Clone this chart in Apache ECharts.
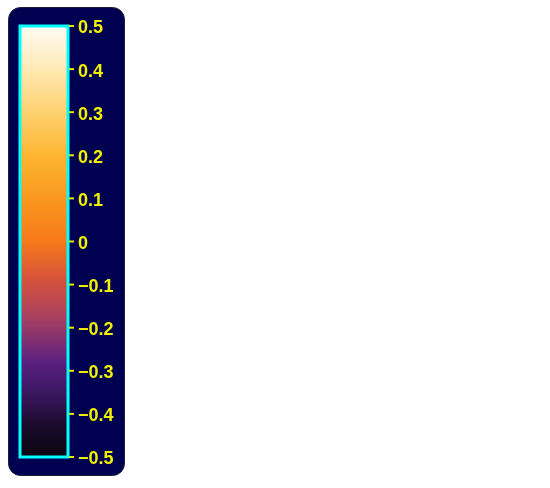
<!DOCTYPE html>
<html>
<head>
<meta charset="utf-8">
<script src="https://cdn.jsdelivr.net/npm/echarts@6/dist/echarts.min.js"></script>
<style>html,body{margin:0;padding:0;background:#fff}#c{width:550px;height:488px}</style>
</head>
<body>
<div id="c"></div>
<script>
var scaleMin = -0.5;
var scaleMax = 0.5;
var tickStep = 0.1;
var tickValues = [-0.5, -0.4, -0.3, -0.2, -0.1, 0, 0.1, 0.2, 0.3, 0.4, 0.5];
var tickLabels = ['−0.5','−0.4','−0.3','−0.2','−0.1','0','0.1','0.2','0.3','0.4','0.5'];
var stopPositions = [0, 0.08, 0.15, 0.22, 0.32, 0.42, 0.5, 0.6, 0.7, 0.8, 0.9, 1];
var stopColors = ['#0a0410','#1c0b2e','#3a1760','#5a2080','#a53e62','#da5538','#f6791a','#fa981f','#fdb632','#fed272','#ffe9b5','#fffdf8'];

var chart = echarts.init(document.getElementById('c'));
var stops = stopPositions.map(function (p, i) { return { offset: 1 - p, color: stopColors[i] }; });
var labelMap = {};
tickValues.forEach(function (v, i) { labelMap[v.toFixed(1)] = tickLabels[i]; });

chart.setOption({
  animation: false,
  graphic: [{
    type: 'rect', z: -10, silent: true,
    shape: { x: 8.5, y: 7.5, width: 116, height: 468, r: 12 },
    style: { fill: '#000050', stroke: '#1c1c3a', lineWidth: 1 }
  }],
  grid: { left: 20, top: 26, width: 49, height: 431 },
  xAxis: { type: 'value', min: 0, max: 1, show: false },
  yAxis: {
    type: 'value', position: 'right', min: scaleMin, max: scaleMax, interval: tickStep,
    axisLine: { show: false },
    splitLine: { show: false },
    axisTick: { show: false },
    axisLabel: {
      margin: 9,
      formatter: function (v) { return '{t|' + (labelMap[v.toFixed(1)] || '') + '}'; },
      rich: {
        t: {
          color: '#f0f000', fontFamily: 'Liberation Sans, Arial, sans-serif',
          fontWeight: 'bold', fontSize: 18, lineHeight: 18, padding: [5, 0, 0, 0]
        }
      }
    }
  },
  series: [{
    type: 'custom',
    data: [[0, scaleMin, scaleMax]],
    renderItem: function (params, api) {
      var cs = params.coordSys;
      var yTop = api.coord([0, api.value(2)])[1];
      var yBot = api.coord([0, api.value(1)])[1];
      return {
        type: 'rect',
        shape: { x: cs.x, y: yTop, width: cs.width - 1, height: yBot - yTop },
        style: {
          fill: new echarts.graphic.LinearGradient(0, 0, 0, 1, stops),
          stroke: '#00ffff', lineWidth: 3
        }
      };
    }
  }, {
    type: 'custom',
    clip: false,
    data: tickValues.map(function (v) { return [0, v]; }),
    renderItem: function (params, api) {
      var cs = params.coordSys;
      var y = api.coord([0, api.value(1)])[1];
      var x0 = cs.x + cs.width;
      return {
        type: 'line',
        shape: { x1: x0, y1: y, x2: x0 + 5, y2: y },
        style: { stroke: '#e8e800', lineWidth: 2 }
      };
    }
  }]
});
</script>
</body>
</html>
